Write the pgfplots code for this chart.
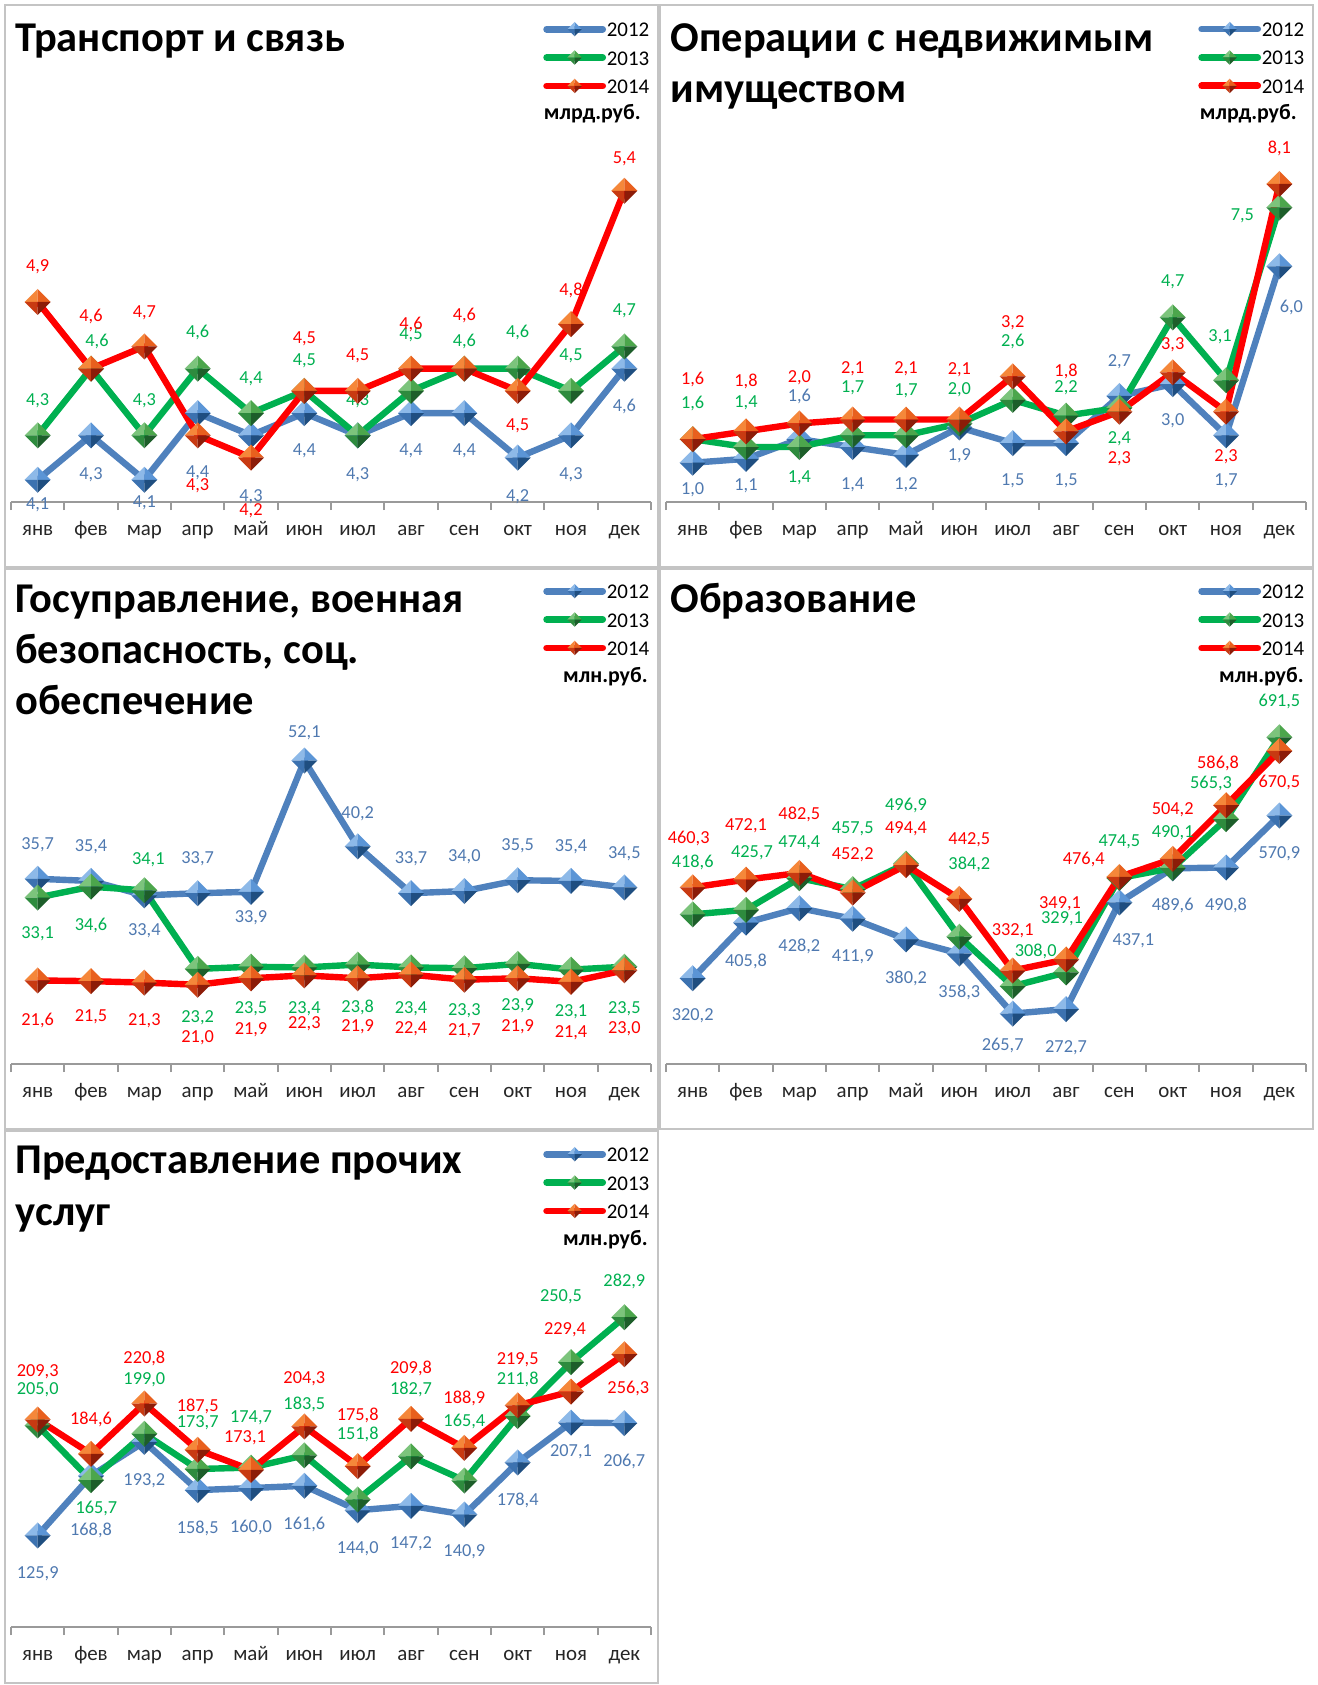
\documentclass[border=0pt]{standalone}
\usepackage{fontspec}
\setmainfont{Carlito}
\usepackage{pgfplots}
\pgfplotsset{compat=1.18}

\definecolor{cB}{HTML}{4F81BD}
\definecolor{cG}{HTML}{00B050}
\definecolor{cR}{HTML}{FF0000}
\definecolor{tB}{HTML}{4F79B0}
\definecolor{tG}{HTML}{00B050}
\definecolor{tR}{HTML}{FF0000}
\definecolor{axgray}{HTML}{9A9A9A}
\definecolor{frame}{HTML}{C4C4C4}
% pyramid-like diamond faces
\definecolor{b1}{HTML}{8DB9E8}\definecolor{b2}{HTML}{5B95D6}\definecolor{b3}{HTML}{3C72B0}\definecolor{b4}{HTML}{1F4E80}
\definecolor{g1}{HTML}{7CC47C}\definecolor{g2}{HTML}{4CA64C}\definecolor{g3}{HTML}{2E8B3E}\definecolor{g4}{HTML}{1D5E2A}
\definecolor{r1}{HTML}{F5873A}\definecolor{r2}{HTML}{E8601E}\definecolor{r3}{HTML}{C83A12}\definecolor{r4}{HTML}{8C1C08}

\newcommand\fs[1]{\fontsize{#1}{#1}\selectfont}
\newcommand\pyr[4]{%
  \pgfpathmoveto{\pgfpointorigin}\pgfpathlineto{\pgfqpoint{-\pgfplotmarksize}{0pt}}\pgfpathlineto{\pgfqpoint{0pt}{\pgfplotmarksize}}\pgfpathclose
  \pgfsetfillcolor{#1}\pgfusepath{fill}%
  \pgfpathmoveto{\pgfpointorigin}\pgfpathlineto{\pgfqpoint{0pt}{\pgfplotmarksize}}\pgfpathlineto{\pgfqpoint{\pgfplotmarksize}{0pt}}\pgfpathclose
  \pgfsetfillcolor{#2}\pgfusepath{fill}%
  \pgfpathmoveto{\pgfpointorigin}\pgfpathlineto{\pgfqpoint{-\pgfplotmarksize}{0pt}}\pgfpathlineto{\pgfqpoint{0pt}{-\pgfplotmarksize}}\pgfpathclose
  \pgfsetfillcolor{#3}\pgfusepath{fill}%
  \pgfpathmoveto{\pgfpointorigin}\pgfpathlineto{\pgfqpoint{0pt}{-\pgfplotmarksize}}\pgfpathlineto{\pgfqpoint{\pgfplotmarksize}{0pt}}\pgfpathclose
  \pgfsetfillcolor{#4}\pgfusepath{fill}}
\pgfdeclareplotmark{pyrB}{\pyr{b1}{b2}{b3}{b4}}
\pgfdeclareplotmark{pyrG}{\pyr{g1}{g2}{g3}{g4}}
\pgfdeclareplotmark{pyrR}{\pyr{r1}{r2}{r3}{r4}}

\pgfplotsset{
  panel/.style={
    scale only axis, width=320bp, height=178.5bp, anchor=south west,
    xmin=-0.5, xmax=11.5, clip=false,
    axis x line*=bottom, axis y line=none,
    axis line style={draw=axgray, line width=0.9bp, -},
    xtick={0,...,11},
    xticklabels={янв,фев,мар,апр,май,июн,июл,авг,сен,окт,ноя,дек},
    minor xtick={-0.5,0.5,...,11.5},
    major tick length=0pt, minor tick length=4bp, tick align=outside,
    minor tick style={draw=axgray, line width=0.9bp},
    xticklabel style={font=\fs{10.5}, anchor=base, yshift=-16.8bp, text=black!85},
    legend style={at={(axis description cs:0.831,1)}, anchor=west, yshift=43.75bp,
      draw=none, fill=none, inner sep=0pt, font=\fs{10.5}, row sep=5.9bp,
      nodes={inner sep=0.4bp, text height=7.5bp, text depth=0bp}},
    legend cell align=left,
    legend image code/.code={\draw[##1, mark repeat=2, mark phase=2, mark size=3.6bp,
      line width=3.4bp, line cap=round] plot coordinates {(0bp,0bp) (14bp,0bp) (28bp,0bp)};},
  },
  lab/.style={nodes near coords={\pgfplotspointmeta}, point meta=explicit symbolic,
    visualization depends on={\thisrow{dx}\as\dx},
    visualization depends on={\thisrow{dy}\as\dy},
    every node near coord/.append style={font=\fs{9.2}, text=#1, anchor=center,
      xshift=\dx bp, yshift=\dy bp, inner sep=0pt}},
  sB/.style={color=cB, line width=3.2bp, line join=round, mark=pyrB, mark size=6.5bp, lab=tB},
  sG/.style={color=cG, line width=3.2bp, line join=round, mark=pyrG, mark size=6.5bp, lab=tG},
  sR/.style={color=cR, line width=3.2bp, line join=round, mark=pyrR, mark size=6.5bp, lab=tR},
}

\begin{document}
\begin{tikzpicture}[x=0.5bp, y=-0.5bp]
\path[use as bounding box] (0,0) rectangle (1318,1685);
% panel frames
\draw[frame, line width=1.3bp] (5,5) rectangle (658,567);
\draw[frame, line width=1.3bp] (660,5) rectangle (1313,567);
\draw[frame, line width=1.3bp] (5,569) rectangle (658,1129);
\draw[frame, line width=1.3bp] (660,569) rectangle (1313,1129);
\draw[frame, line width=1.3bp] (5,1131) rectangle (658,1683);

% ---------- Транспорт и связь ----------
\begin{axis}[panel, at={(5.5bp,-251bp)}, ymin=4.0, ymax=5.606]
\addplot[sB] table[x=x, y=y, meta=lbl] {
x y lbl dx dy
0 4.1 4,1 0 -12.5
1 4.3 4,3 0 -19.5
2 4.1 4,1 0 -11.5
3 4.4 4,4 0 -30
4 4.3 4,3 0 -30.5
5 4.4 4,4 0 -19
6 4.3 4,3 0 -19.5
7 4.4 4,4 0 -19
8 4.4 4,4 0 -19
9 4.2 4,2 0 -19.5
10 4.3 4,3 0 -19.5
11 4.6 4,6 0 -19
};
\addplot[sG] table[x=x, y=y, meta=lbl] {
x y lbl dx dy
0 4.3 4,3 0 17.5
1 4.6 4,6 3 13.5
2 4.3 4,3 0 17.5
3 4.6 4,6 0 18
4 4.4 4,4 0 17.3
5 4.5 4,5 0 15
6 4.3 4,3 0 17.5
7 4.5 4,5 0 28
8 4.6 4,6 0 13.6
9 4.6 4,6 0 18
10 4.5 4,5 0 17.3
11 4.7 4,7 0 17.6
};
\addplot[sR] table[x=x, y=y, meta=lbl] {
x y lbl dx dy
0 4.9 4,9 0 17.6
1 4.6 4,6 0 26
2 4.7 4,7 0 17
3 4.3 4,3 0 -25
4 4.2 4,2 0 -26.7
5 4.5 4,5 0 26
6 4.5 4,5 0 17.3
7 4.6 4,6 0 22
8 4.6 4,6 0 26.7
9 4.5 4,5 0 -17.3
10 4.8 4,8 0 17
11 5.4 5,4 0 16
};
\legend{2012,2013,2014}
\end{axis}

% ---------- Операции с недвижимым имуществом ----------
\begin{axis}[panel, at={(333bp,-251bp)}, ymin=0, ymax=9.09]
\addplot[sB] table[x=x, y=y, meta=lbl] {
x y lbl dx dy
0 1.0 1,0 0 -13.6
1 1.1 1,1 0 -13.3
2 1.6 1,6 0 21.5
3 1.4 1,4 0 -18.7
4 1.2 1,2 0 -14.7
5 1.9 1,9 0 -14
6 1.5 1,5 0 -19
7 1.5 1,5 0 -19
8 2.7 2,7 0 17
9 3.0 3,0 0 -18.4
10 1.7 1,7 0 -22.7
11 6.0 6,0 6 -20.5
};
\addplot[sG] table[x=x, y=y, meta=lbl] {
x y lbl dx dy
0 1.6 1,6 0 18
1 1.4 1,4 0 22
2 1.4 1,4 0 -15.6
3 1.7 1,7 0 23.6
4 1.7 1,7 0 22
5 2.0 2,0 0 16.7
6 2.6 2,6 0 29
7 2.2 2,2 0 14
8 2.4 2,4 0 -15.6
9 4.7 4,7 0 18
10 3.1 3,1 -3 21.8
11 7.5 7,5 -18.5 -4
};
\addplot[sR] table[x=x, y=y, meta=lbl] {
x y lbl dx dy
0 1.6 1,6 0 30
1 1.8 1,8 0 25
2 2.0 2,0 0 23
3 2.1 2,1 0 25.6
4 2.1 2,1 0 25.6
5 2.1 2,1 0 24.7
6 3.2 3,2 0 27
7 1.8 1,8 0 29.8
8 2.3 2,3 0 -23.6
9 3.3 3,3 0 14
10 2.3 2,3 0 -22.4
11 8.1 8,1 0 17.8
};
\legend{2012,2013,2014}
\end{axis}

% ---------- Госуправление ----------
\begin{axis}[panel, at={(5.5bp,-532bp)}, ymin=10, ymax=59.53]
\addplot[sB] table[x=x, y=y, meta=lbl] {
x y lbl dx dy
0 35.7 35,7 0 17.1
1 35.4 35,4 0 17.1
2 33.4 33,4 0 -17.5
3 33.7 33,7 0 17.3
4 33.9 33,9 0 -13.2
5 52.1 52,1 0 14
6 40.2 40,2 0 16.2
7 33.7 33,7 0 17.3
8 34.0 34,0 0 17.1
9 35.5 35,5 0 17.3
10 35.4 35,4 0 17.1
11 34.5 34,5 0 17.1
};
\addplot[sG] table[x=x, y=y, meta=lbl] {
x y lbl dx dy
0 33.1 33,1 0 -18
1 34.6 34,6 0 -19.6
2 34.1 34,1 2 15.3
3 23.2 23,2 0 -24.3
4 23.5 23,5 0 -21
5 23.4 23,4 0 -20.7
6 23.8 23,8 0 -21.3
7 23.4 23,4 0 -20.7
8 23.3 23,3 0 -21.3
9 23.9 23,9 0 -20.7
10 23.1 23,1 0 -21
11 23.5 23,5 0 -21
};
\addplot[sR] table[x=x, y=y, meta=lbl] {
x y lbl dx dy
0 21.6 21,6 0 -20.2
1 21.5 21,5 0 -17.7
2 21.3 21,3 0 -19
3 21.0 21,0 0 -26.5
4 21.9 21,9 0 -25.6
5 22.3 22,3 0 -24
6 21.9 21,9 0 -24.3
7 22.4 22,4 0 -26.8
8 21.7 21,7 0 -25.6
9 21.9 21,9 0 -24.3
10 21.4 21,4 0 -25.2
11 23.0 23,0 0 -29
};
\legend{2012,2013,2014}
\end{axis}

% ---------- Образование ----------
\begin{axis}[panel, at={(333bp,-532bp)}, ymin=188, ymax=738.1]
\addplot[sB] table[x=x, y=y, meta=lbl] {
x y lbl dx dy
0 320.2 320,2 0 -18.9
1 405.8 405,8 0 -19.3
2 428.2 428,2 0 -18.9
3 411.9 411,9 0 -19.1
4 380.2 380,2 0 -19.5
5 358.3 358,3 0 -19.6
6 265.7 265,7 -5 -15.7
7 272.7 272,7 0 -19.5
8 437.1 437,1 7 -19.3
9 489.6 489,6 0 -18.6
10 490.8 490,8 0 -18.9
11 570.9 570,9 0 -18.9
};
\addplot[sG] table[x=x, y=y, meta=lbl] {
x y lbl dx dy
0 418.6 418,6 0 26
1 425.7 425,7 3 28.3
2 474.4 474,4 0 17.5
3 457.5 457,5 0 30
4 496.9 496,9 0 29
5 384.2 384,2 5 36.4
6 308.0 308,0 11.5 17.5
7 329.1 329,1 -2 26.7
8 474.5 474,5 0 18.2
9 490.1 490,1 0 17.8
10 565.3 565,3 -7.5 18
11 691.5 691,5 0 18
};
\addplot[sR] table[x=x, y=y, meta=lbl] {
x y lbl dx dy
0 460.3 460,3 -2 24.5
1 472.1 472,1 0 27.2
2 482.5 482,5 0 29.5
3 452.2 452,2 0 18.7
4 494.4 494,4 0 18
5 442.5 442,5 5 29.7
6 332.1 332,1 0 19.8
7 349.1 349,1 -3 28
8 476.4 476,4 -17.8 8.6
9 504.2 504,2 0 24.5
10 586.8 586,8 -4 21
11 670.5 670,5 0 -15.7
};
\legend{2012,2013,2014}
\end{axis}

% ---------- Предоставление прочих услуг ----------
\begin{axis}[panel, at={(5.5bp,-813.5bp)}, ymin=60, ymax=316.8]
\addplot[sB] table[x=x, y=y, meta=lbl] {
x y lbl dx dy
0 125.9 125,9 0 -19.1
1 168.8 168,8 0 -27.5
2 193.2 193,2 0 -19.5
3 158.5 158,5 0 -19.1
4 160.0 160,0 0 -19.6
5 161.6 161,6 0 -19.5
6 144.0 144,0 0 -19.1
7 147.2 147,2 0 -18.8
8 140.9 140,9 0 -18.8
9 178.4 178,4 0 -18.9
10 207.1 207,1 0 -14.8
11 206.7 206,7 0 -19.1
};
\addplot[sG] table[x=x, y=y, meta=lbl] {
x y lbl dx dy
0 205.0 205,0 0 17.9
1 165.7 165,7 2.7 -14.1
2 199.0 199,0 0 27
3 173.7 173,7 0 23.2
4 174.7 174,7 0 25
5 183.5 183,5 0 25.7
6 151.8 151,8 0 32.5
7 182.7 182,7 0 33.4
8 165.4 165,4 0 29.6
9 211.8 211,8 0 18.2
10 250.5 250,5 -5 32.7
11 282.9 282,9 0 17.7
};
\addplot[sR] table[x=x, y=y, meta=lbl] {
x y lbl dx dy
0 209.3 209,3 0 24.1
1 184.6 184,6 0 17
2 220.8 220,8 0 22.7
3 187.5 187,5 0 21.6
4 173.1 173,1 -3 15.9
5 204.3 204,3 0 24.1
6 175.8 175,8 0 25.4
7 209.8 209,8 0 25.2
8 188.9 188,9 0 24.6
9 219.5 219,5 0 23
10 229.4 229,4 -3 30.7
11 256.3 256,3 2 -17.3
};
\legend{2012,2013,2014}
\end{axis}

% titles
\begin{scope}[every node/.style={anchor=base west, inner sep=0pt, font=\bfseries\fs{21.3}}]
\node at (15,51) {Транспорт и связь};
\node at (670,51) {Операции с недвижимым};
\node at (670,102) {имуществом};
\node at (15,612) {Госуправление, военная};
\node at (15,663) {безопасность, соц.};
\node at (15,714) {обеспечение};
\node at (670,612) {Образование};
\node at (15,1173) {Предоставление прочих};
\node at (15,1225) {услуг};
\end{scope}
% units
\begin{scope}[every node/.style={anchor=base east, inner sep=0pt, font=\bfseries\fs{11}}]
\node at (641,119) {млрд.руб.};
\node at (1297,119) {млрд.руб.};
\node at (648,682) {млн.руб.};
\node at (1304,682) {млн.руб.};
\node at (648,1245) {млн.руб.};
\end{scope}
\end{tikzpicture}
\end{document}
